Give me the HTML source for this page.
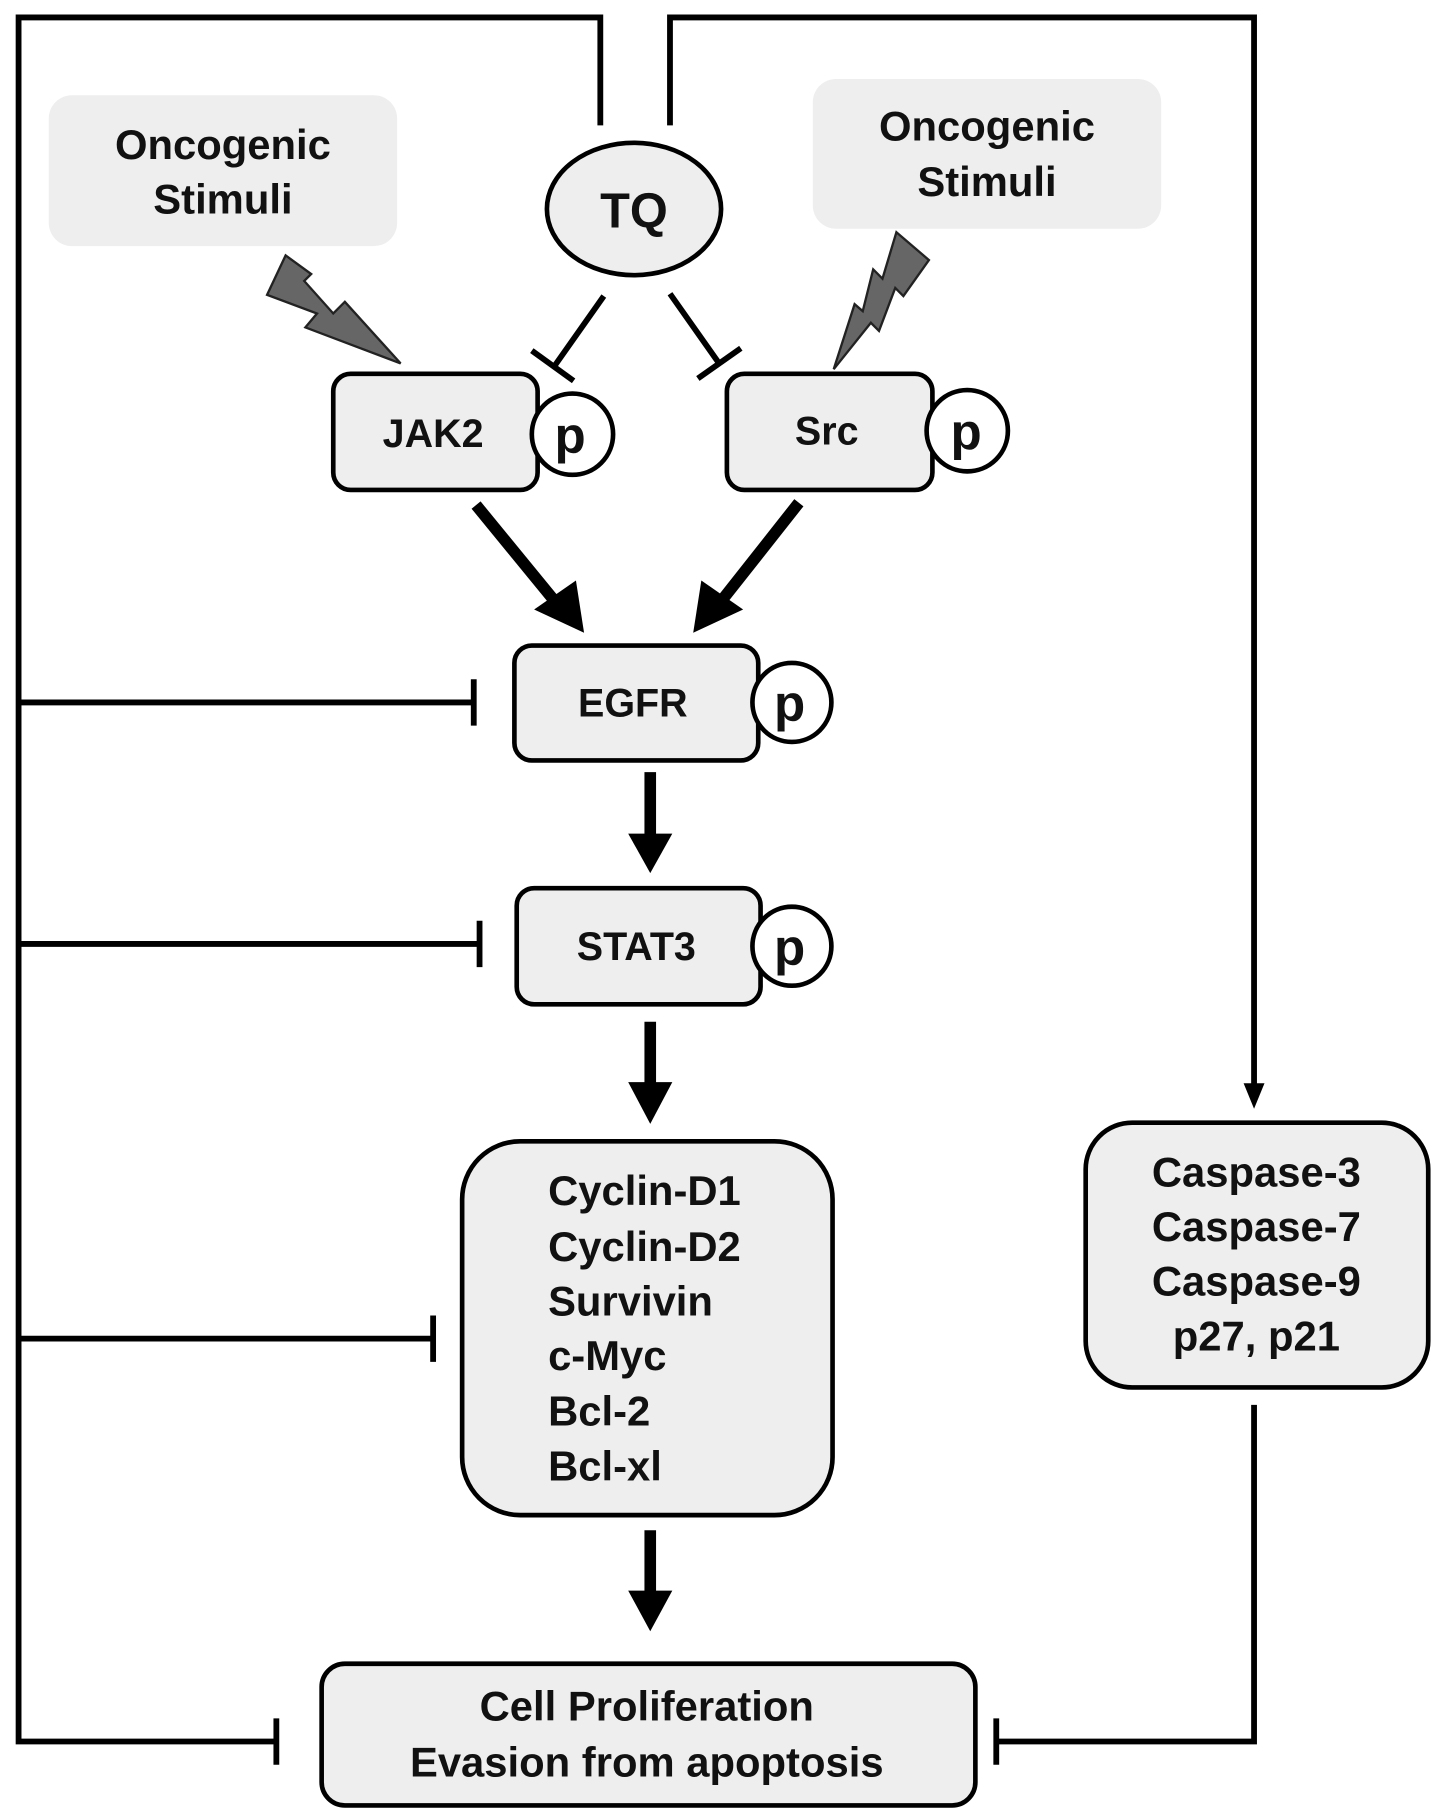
<!DOCTYPE html>
<html><head><meta charset="utf-8"><style>
html,body{margin:0;padding:0;background:#fff;width:1441px;height:1817px;overflow:hidden}
svg{display:block}
text{font-family:"Liberation Sans",Arial,sans-serif;font-weight:bold;fill:#111}
</style></head><body>
<svg width="1441" height="1817" viewBox="0 0 1241 1565" preserveAspectRatio="none" xmlns="http://www.w3.org/2000/svg">
<g fill="none" stroke="#000" stroke-width="5">
<polyline points="517,108 517,15 16,15 16,1500 238,1500"/>
<polyline points="577,108 577,15 1080,15 1080,935"/>
<line x1="16" y1="605" x2="408" y2="605"/><line x1="408" y1="585" x2="408" y2="625"/>
<line x1="16" y1="813" x2="413" y2="813"/><line x1="413" y1="793" x2="413" y2="833"/>
<line x1="16" y1="1153" x2="373" y2="1153"/><line x1="373" y1="1133" x2="373" y2="1173"/>
<line x1="238" y1="1480" x2="238" y2="1520"/>
<polyline points="1080,1210 1080,1500 858,1500"/><line x1="858" y1="1480" x2="858" y2="1520"/>
<line x1="520" y1="255" x2="477" y2="316"/><line x1="458" y1="302" x2="494" y2="328"/>
<line x1="577" y1="253" x2="620" y2="314"/><line x1="601" y1="326" x2="638" y2="300"/>
</g>
<polygon points="1080,955 1071,933 1089,933" fill="#000"/>
<g stroke="#000" stroke-width="10">
<line x1="410" y1="435" x2="482" y2="523"/>
<line x1="688" y1="433" x2="617" y2="523"/>
<line x1="560" y1="665" x2="560" y2="725"/>
<line x1="560" y1="880" x2="560" y2="940"/>
<line x1="560" y1="1318" x2="560" y2="1378"/>
</g>
<g fill="#000">
<polygon points="503,545 460,525 496,500"/>
<polygon points="597,545 604,500 640,525"/>
<polygon points="560,752 541,718 579,718"/>
<polygon points="560,968 541,932 579,932"/>
<polygon points="560,1405 541,1370 579,1370"/>
</g>
<g fill="#666" stroke="#222" stroke-width="2">
<polygon points="246,220 230,254 273,270 263,282 345,313 297,260 287,270 262,242 268,236"/>
<polygon points="772,200 800,224 778,255 771,248 757,285 750,278 718,318 736,262 743,268 752,232 760,240"/>
</g>
<rect x="42" y="82" width="300" height="130" rx="20" fill="#eee"/>
<rect x="700" y="68" width="300" height="129" rx="20" fill="#eee"/>
<g fill="#eee" stroke="#000" stroke-width="4">
<ellipse cx="546" cy="180" rx="75" ry="57"/>
<rect x="287" y="322" width="176" height="100" rx="15"/>
<circle cx="493" cy="374" r="35" fill="#fff"/>
<rect x="626" y="322" width="177" height="100" rx="15"/>
<circle cx="833" cy="371" r="35" fill="#fff"/>
<rect x="443" y="556" width="210" height="99" rx="15"/>
<circle cx="682" cy="605" r="34" fill="#fff"/>
<rect x="445" y="765" width="210" height="100" rx="15"/>
<circle cx="682" cy="815" r="34" fill="#fff"/>
<rect x="398" y="983" width="319" height="322" rx="50"/>
<rect x="935" y="967" width="295" height="228" rx="40"/>
<rect x="277" y="1433" width="563" height="122" rx="20"/>
</g>
<g font-size="36" text-anchor="middle">
<text x="192" y="137">Oncogenic</text><text x="192" y="184">Stimuli</text>
<text x="850" y="121">Oncogenic</text><text x="850" y="169">Stimuli</text>
<text x="546" y="196" font-size="42">TQ</text>
<text x="373" y="385" font-size="34">JAK2</text>
<text x="712" y="383" font-size="34">Src</text>
<text x="545" y="617" font-size="34">EGFR</text>
<text x="548" y="827" font-size="34">STAT3</text>
<text x="491" y="390" font-size="44" font-weight="normal">p</text>
<text x="832" y="387" font-size="44" font-weight="normal">p</text>
<text x="680" y="621" font-size="44" font-weight="normal">p</text>
<text x="680" y="831" font-size="44" font-weight="normal">p</text>
<text x="1082" y="1022">Caspase-3</text><text x="1082" y="1069">Caspase-7</text>
<text x="1082" y="1116">Caspase-9</text><text x="1082" y="1163">p27, p21</text>
<text x="557" y="1482">Cell Proliferation</text>
<text x="557" y="1530">Evasion from apoptosis</text>
</g>
<g font-size="36">
<text x="472" y="1038">Cyclin-D1</text><text x="472" y="1086">Cyclin-D2</text>
<text x="472" y="1133">Survivin</text><text x="472" y="1180">c-Myc</text>
<text x="472" y="1228">Bcl-2</text><text x="472" y="1275">Bcl-xl</text>
</g>
</svg>
</body></html>
